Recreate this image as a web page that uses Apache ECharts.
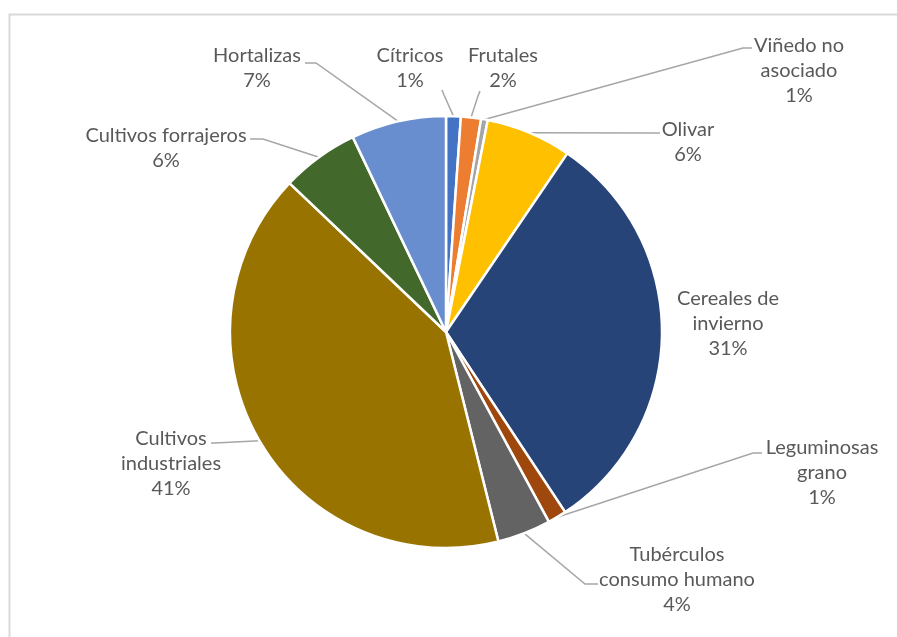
<!DOCTYPE html>
<html>
<head>
<meta charset="utf-8">
<script src="https://cdn.jsdelivr.net/npm/echarts@6/dist/echarts.min.js"></script>
<style>
  html, body { margin: 0; padding: 0; background: #ffffff; }
  #chart { width: 897px; height: 637px; }
</style>
</head>
<body>
<div id="chart"></div>
<script>
// Crop groups, clockwise from 12 o'clock
const categories = [
  'Cítricos',
  'Frutales',
  'Viñedo no\nasociado',
  'Olivar',
  'Cereales de\ninvierno',
  'Leguminosas\ngrano',
  'Tubérculos\nconsumo humano',
  'Cultivos\nindustriales',
  'Cultivos forrajeros',
  'Hortalizas'
];

// Share of cultivated area (%)
const shares = [1.1, 1.5, 0.5, 6.4, 31.2, 1.4, 4.0, 41.0, 5.8, 7.1];

const sliceColors = [
  '#4472C4', '#ED7D31', '#A5A5A5', '#FFC000', '#264478',
  '#9E480E', '#636363', '#997300', '#43682B', '#698ED0'
];

// Label block centres and the elbow points of each leader line
const labelSpots = [
  { x: 410, y: 68, line: [[444, 95], [442, 90]] },
  { x: 503, y: 68, line: [[478, 96], [480, 91]] },
  { x: 799, y: 71, line: [[743, 48], [752, 48]] },
  { x: 688, y: 142, line: [[655, 133], [660, 133]] },
  { x: 728, y: 324, line: null },
  { x: 822, y: 473, line: [[753, 453], [762, 453]] },
  { x: 677, y: 580, line: [[585, 584], [598, 584]] },
  { x: 171, y: 464, line: [[215, 443], [211, 443]] },
  { x: 166, y: 148, line: [[263, 139], [250, 139]] },
  { x: 257, y: 68, line: [[316, 63], [305, 63]] }
];

const pieData = categories.map((name, i) => ({
  name: name,
  value: shares[i],
  itemStyle: { color: sliceColors[i] },
  labelLine: { show: labelSpots[i].line !== null }
}));

const chart = echarts.init(document.getElementById('chart'), null, { renderer: 'canvas' });

chart.setOption({
  animation: false,
  backgroundColor: '#ffffff',
  graphic: [{
    type: 'rect',
    shape: { x: 9.5, y: 14.5, width: 900, height: 640 },
    style: { fill: 'none', stroke: '#d9d9d9', lineWidth: 2 },
    silent: true
  }],
  series: [{
    type: 'pie',
    center: [446, 332],
    radius: 216,
    startAngle: 90,
    clockwise: true,
    avoidLabelOverlap: false,
    emphasis: { disabled: true },
    itemStyle: { borderColor: '#ffffff', borderWidth: 2.5 },
    label: {
      show: true,
      position: 'outside',
      formatter: p => p.name + '\n' + Math.round(p.percent) + '%',
      fontFamily: 'Lato',
      fontSize: 20,
      lineHeight: 25,
      color: '#595959',
      align: 'center'
    },
    labelLine: {
      show: true,
      length: 10,
      length2: 10,
      smooth: false,
      lineStyle: { color: '#a6a6a6', width: 1.5 }
    },
    labelLayout: function (params) {
      const spot = labelSpots[params.dataIndex];
      const out = { x: spot.x, y: spot.y, align: 'center', verticalAlign: 'middle' };
      if (spot.line && params.labelLinePoints) {
        out.labelLinePoints = [params.labelLinePoints[0]].concat(spot.line);
      }
      return out;
    },
    data: pieData
  }]
});
</script>
</body>
</html>
